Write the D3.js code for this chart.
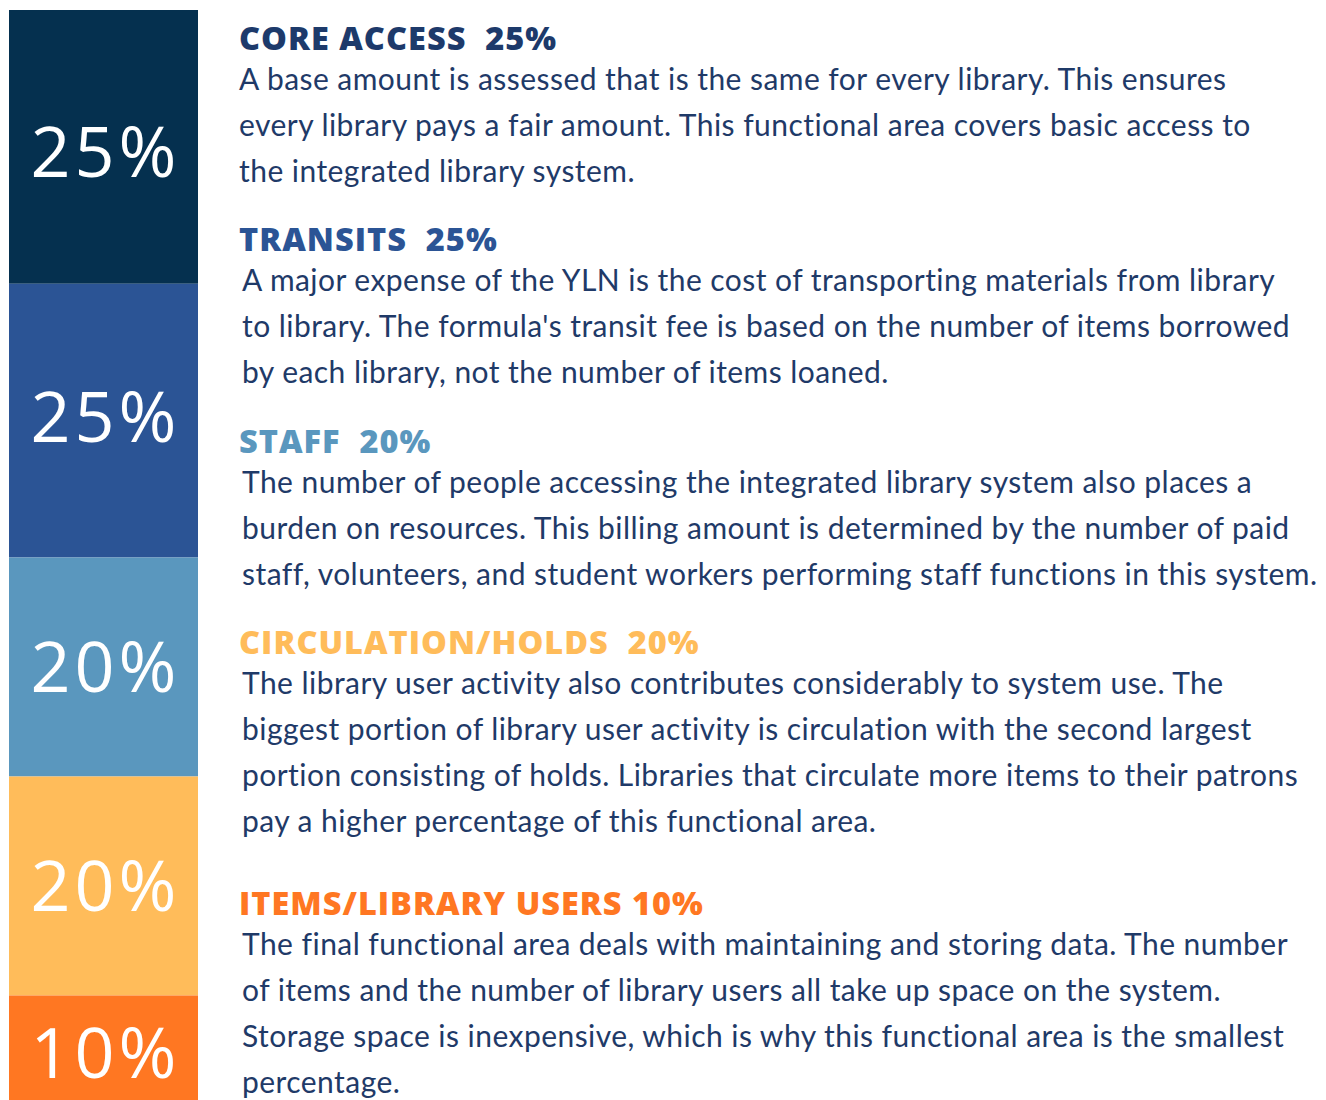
<!DOCTYPE html>
<html>
<head>
<meta charset="utf-8">
<script src="https://cdn.jsdelivr.net/npm/d3@7"></script>
<style>
  body { margin: 0; background: #fff; }
  svg { display: block; }
  .head { font-family: "Open Sans", sans-serif; font-weight: 800; white-space: pre; letter-spacing: 1px; }
  .body { font-family: "Lato", sans-serif; font-weight: 400; fill: #1f3a68; letter-spacing: 0.45px; }
  .pct { font-family: "Open Sans", sans-serif; font-weight: 400; fill: #fff; letter-spacing: 4px; }
</style>
</head>
<body>
<svg id="chart"></svg>
<script>
// data
var categories = ["CORE ACCESS", "TRANSITS", "STAFF", "CIRCULATION/HOLDS", "ITEMS/LIBRARY USERS"];
var shares = [25, 25, 20, 20, 10];
var colors = ["#05304f", "#2b5495", "#5a97be", "#ffbc5a", "#ff7722"];
var headColors = ["#1d3a6b", "#2b5495", "#5a97be", "#ffbc5a", "#ff7722"];
var descriptions = [
  ["A base amount is assessed that is the same for every library. This ensures",
   "every library pays a fair amount. This functional area covers basic access to",
   "the integrated library system."],
  ["A major expense of the YLN is the cost of transporting materials from library",
   "to library. The formula's transit fee is based on the number of items borrowed",
   "by each library, not the number of items loaned."],
  ["The number of people accessing the integrated library system also places a",
   "burden on resources. This billing amount is determined by the number of paid",
   "staff, volunteers, and student workers performing staff functions in this system."],
  ["The library user activity also contributes considerably to system use. The",
   "biggest portion of library user activity is circulation with the second largest",
   "portion consisting of holds. Libraries that circulate more items to their patrons",
   "pay a higher percentage of this functional area."],
  ["The final functional area deals with maintaining and storing data. The number",
   "of items and the number of library users all take up space on the system.",
   "Storage space is inexpensive, which is why this functional area is the smallest",
   "percentage."]
];
var headGap = ["  ", "  ", "  ", "  ", " "];

var width = 1326, height = 1100;

var svg = d3.select("#chart")
    .attr("width", width)
    .attr("height", height);

// stacked bar
var stacked = [];
var acc = 0;
shares.forEach(function (v, i) {
  stacked.push({ name: categories[i], value: v, y0: acc, y1: acc + v, i: i });
  acc += v;
});

var y = d3.scaleLinear()
    .domain([0, d3.sum(shares)])
    .range([10, 1105]);

var x = d3.scaleBand()
    .domain(["share"])
    .range([9, 198]);

var bar = svg.append("g").attr("class", "bar");

bar.selectAll("rect")
  .data(stacked).enter()
  .append("rect")
  .attr("x", x("share"))
  .attr("width", x.bandwidth())
  .attr("y", function (d) { return y(d.y0); })
  .attr("height", function (d) { return y(d.y1) - y(d.y0); })
  .attr("fill", function (d) { return colors[d.i]; });

// label offsets so the numbers sit like the original
var labelShift = [30, 21, 25, 25, 28];

bar.selectAll("text")
  .data(stacked).enter()
  .append("text")
  .attr("class", "pct")
  .attr("x", x("share") + x.bandwidth() / 2 + 2)
  .attr("y", function (d) { return Math.min((y(d.y0) + y(d.y1)) / 2, 1052) + labelShift[d.i]; })
  .attr("text-anchor", "middle")
  .attr("font-size", 70)
  .text(function (d) { return d.value + "%"; });

// text blocks
var headY = [50, 251, 453, 654, 915];
var bodyX = [239, 242, 242, 242, 242];
var lineH = 46;

var blocks = svg.append("g").attr("class", "blocks")
  .selectAll("g")
  .data(stacked).enter()
  .append("g");

blocks.append("text")
  .attr("class", "head")
  .attr("x", 239)
  .attr("y", function (d) { return headY[d.i]; })
  .attr("font-size", 32.5)
  .attr("fill", function (d) { return headColors[d.i]; })
  .text(function (d) { return d.name + headGap[d.i] + d.value + "%"; });

blocks.each(function (d) {
  d3.select(this).selectAll("text.body")
    .data(descriptions[d.i]).enter()
    .append("text")
    .attr("class", "body")
    .attr("x", bodyX[d.i])
    .attr("y", function (t, j) { return headY[d.i] + 40 + j * lineH; })
    .attr("font-size", 30)
    .text(function (t) { return t; });
});
</script>
</body>
</html>
